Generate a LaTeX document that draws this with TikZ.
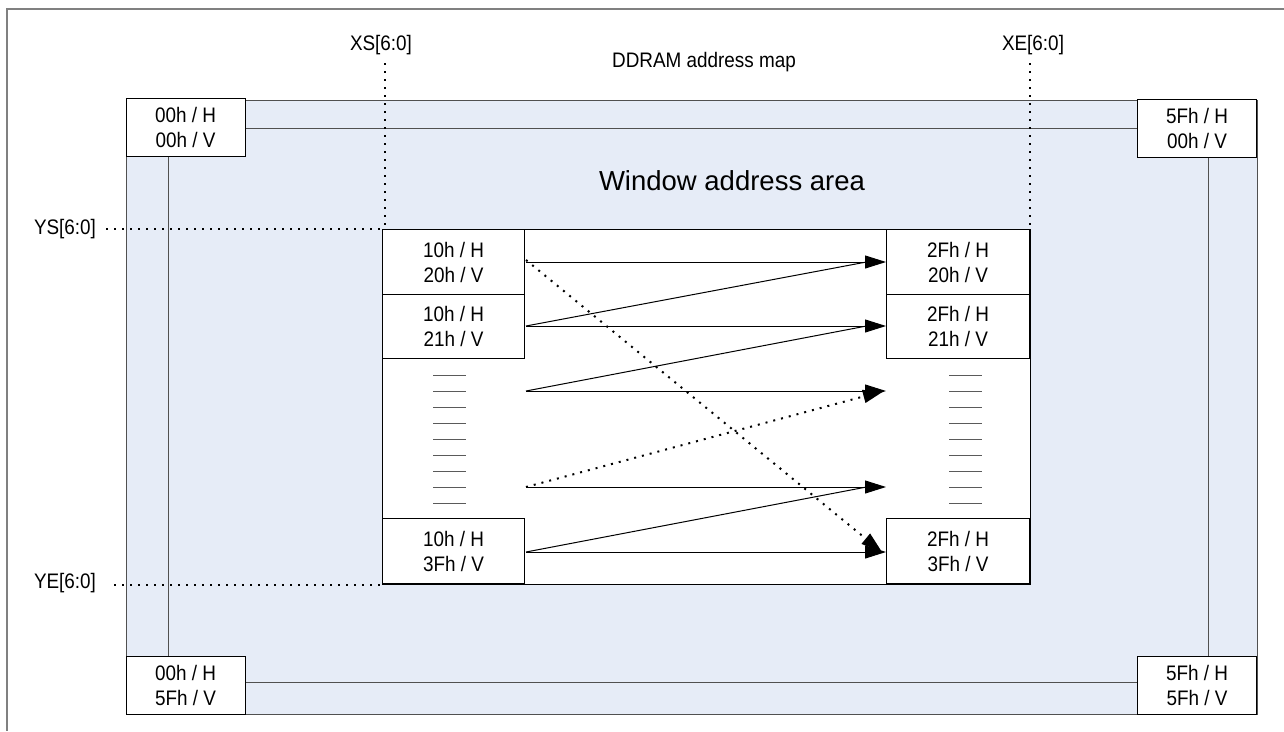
\documentclass[tikz,border=0pt]{standalone}
\usepackage{fontspec}
\setmainfont{Liberation Sans}
\newfontfamily\narrowf{Liberation Sans}[FakeStretch=0.9]
\usetikzlibrary{arrows.meta,calc}
\definecolor{areablue}{RGB}{230,236,247}
\definecolor{framegray}{RGB}{128,128,128}
\definecolor{linegray}{RGB}{80,80,80}
\definecolor{dashgray}{RGB}{90,90,90}
\tikzset{
 addrbox/.style={draw=black, fill=white, line width=1pt, inner sep=0pt, align=center,
   font=\narrowf\fontsize{21}{25}\selectfont},
 corner/.style={addrbox, minimum width=119pt, minimum height=58pt},
 cell/.style={addrbox, minimum width=142pt},
 lbl/.style={inner sep=0pt, font=\narrowf\fontsize{21}{25}\selectfont},
 dotline/.style={line width=2pt, dash pattern=on 2pt off 6pt},
 arrhead/.style={-{Triangle[length=21pt,width=13pt]}},
 arr/.style={line width=1pt, arrhead},
 plainline/.style={line width=1pt},
 gline/.style={line width=1pt, draw=linegray},
 dashmark/.style={line width=1pt, draw=dashgray},
}
\begin{document}
\begin{tikzpicture}[x=1pt,y=-1pt]
\useasboundingbox (0,0) rectangle (1284,731);
\fill[white] (0,0) rectangle (1284,731);
% outer frame
\draw[framegray, line width=1.2pt] (1284,9) -- (7,9) -- (7,731);
% DDRAM area
\draw[fill=areablue, draw=linegray, line width=1pt] (126,100) rectangle (1257,714);
% labels
\node[lbl] (title) at (704,62) {DDRAM address map};
\node[inner sep=0pt, font=\fontsize{27.5}{30}\selectfont] (warea) at (732,181) {Window address area};
\node[lbl] (xs) at (381,45) {XS[6:0]};
\node[lbl] (xe) at (1033,45) {XE[6:0]};
\node[lbl] (ys) at (65,229) {YS[6:0]};
\node[lbl] (ye) at (65,583) {YE[6:0]};
% corner boxes
\node[corner] (tl) at (185.5,127) {00h / H\\00h / V};
\node[corner] (tr) at (1197,128) {5Fh / H\\00h / V};
\node[corner] (bl) at (185.5,685) {00h / H\\5Fh / V};
\node[corner] (br) at (1197,685) {5Fh / H\\5Fh / V};
% inner frame lines
\draw[gline] ([yshift=-1pt]tl.east) -- ([yshift=-1pt]tl.east -| tr.west);
\draw[gline] ([yshift=3pt]bl.east) -- ([yshift=3pt]bl.east -| br.west);
\draw[gline] ([xshift=-17.5pt]tl.south) -- ([xshift=-17.5pt]bl.north);
\draw[gline] ([xshift=11pt]tr.south) -- ([xshift=11pt]br.north);
% window
\node[draw=black, fill=white, line width=1pt, inner sep=0pt, minimum width=648pt,
  minimum height=355pt, anchor=north west] (win) at (382,229) {};
% guide dotted lines
\coordinate (xstop) at (385,63);
\coordinate (xetop) at (1030,63);
\draw[dotline] (xstop) -- (xstop |- win.north);
\draw[dotline] (xetop) -- (xetop |- win.north);
\draw[dotline] ([xshift=10pt]ys.east) -- (win.north west);
\draw[dotline] ([xshift=18pt]ye.east |- win.south) -- (win.south west);
% cells
\node[cell, minimum height=65pt, anchor=north west] (L1) at (382,229) {10h / H\\20h / V};
\node[cell, minimum height=64pt, anchor=north west] (L2) at (382,294) {10h / H\\21h / V};
\node[cell, minimum height=65pt, anchor=south west] (L3) at (382,584) {10h / H\\3Fh / V};
\node[cell, minimum width=143pt, minimum height=65pt, anchor=north east] (R1) at (1030,229) {2Fh / H\\20h / V};
\node[cell, minimum width=143pt, minimum height=64pt, anchor=north east] (R2) at (1030,294) {2Fh / H\\21h / V};
\node[cell, minimum width=143pt, minimum height=65pt, anchor=south east] (R3) at (1030,584) {2Fh / H\\3Fh / V};
% dashes
\foreach \k in {0,...,8}{
  \draw[dashmark] ({433},{375+16*\k}) -- ({466},{375+16*\k});
  \draw[dashmark] ({949},{375+16*\k}) -- ({982},{375+16*\k});
}
% arrow rows
\coordinate (s1) at (526,262);
\coordinate (s2) at (526,326);
\coordinate (s3) at (526,391);
\coordinate (s4) at (526,487);
\coordinate (s5) at (526,552);
\coordinate (e1) at (R1.west |- s1);
\coordinate (e2) at (R2.west |- s2);
\coordinate (e3) at (R1.west |- s3);
\coordinate (e4) at (R1.west |- s4);
\coordinate (e5) at (R3.west |- s5);
\draw[arr] (s1) -- (e1);
\draw[arr] (s2) -- (e2);
\draw[arr] (s3) -- (e3);
\draw[arr] (s4) -- (e4);
\draw[arr] (s5) -- (e5);
% diagonals
\draw[plainline] (s2) -- ([xshift=-10pt,yshift=1.8pt]e1);
\draw[plainline] (s3) -- ([xshift=-10pt,yshift=1.8pt]e2);
\draw[plainline] (s5) -- ([xshift=-10pt,yshift=1.8pt]e4);
\draw[dotline, arrhead] (s4) -- ([xshift=-2pt]e3);
\draw[dotline, arrhead] ([yshift=2pt]s1) -- ([xshift=-4pt]e5);
\end{tikzpicture}
\end{document}
